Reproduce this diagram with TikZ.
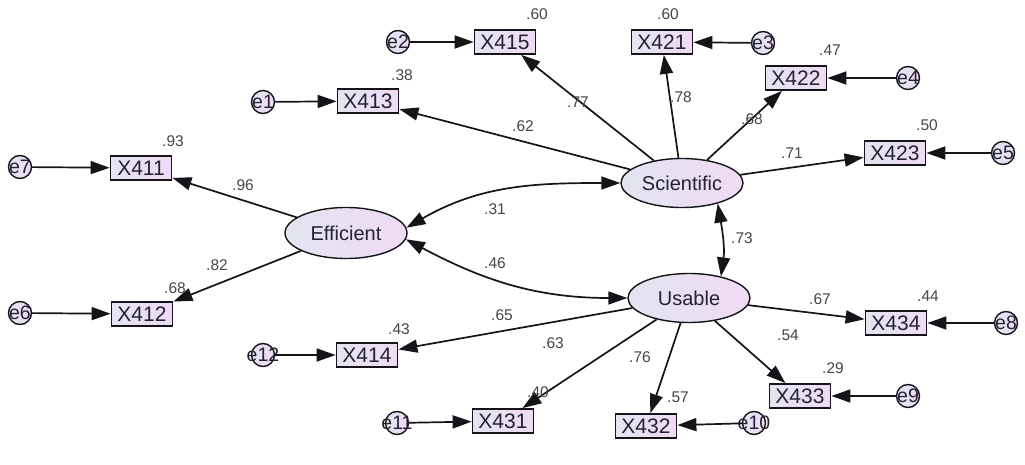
\documentclass[tikz,border=0pt]{standalone}
\usepackage{fontspec}
\setmainfont{Liberation Sans}
\usetikzlibrary{shapes.geometric,arrows.meta}
\definecolor{lineC}{RGB}{20,20,25}
\definecolor{txtC}{RGB}{35,35,50}
\definecolor{lblC}{RGB}{70,70,75}
\definecolor{shL}{RGB}{226,229,240}
\definecolor{shR}{RGB}{240,218,244}
\tikzset{
  x=1pt,y=1pt,
  obs/.style={draw=lineC,line width=1.8pt,left color=shL,right color=shR,minimum width=61pt,minimum height=24pt,inner sep=0pt,text=txtC,font=\fontsize{21}{21}\selectfont},
  lat/.style={ellipse,draw=lineC,line width=1.4pt,left color=shL,right color=shR,minimum width=122pt,minimum height=49pt,inner sep=0pt,text=txtC,font=\fontsize{20}{20}\selectfont},
  err/.style={circle,draw=lineC,line width=1.4pt,left color=shL,right color=shR,minimum size=23pt,inner sep=0pt,
    label={[text=txtC,inner sep=0pt,font=\fontsize{19.5}{19.5}\selectfont]center:#1}},
  val/.style={text=lblC,inner sep=0pt,font=\fontsize{15.5}{15.5}\selectfont},
  arr/.style={draw=lineC,line width=1.7pt,-{Triangle[length=19pt,width=13pt]}},
  cov/.style={draw=lineC,line width=1.7pt,{Triangle[length=19pt,width=13pt]}-{Triangle[length=19pt,width=13pt]}}
}
\begin{document}
\begin{tikzpicture}
\useasboundingbox[fill=white] (0,0) rectangle (1025,-465);
% latent
\node[lat] (Sci) at (682,-183) {Scientific};
\node[lat,minimum height=51pt] (Eff) at (346,-233) {Efficient};
\node[lat] (Use) at (689,-298) {Usable};
% observed
\node[obs] (X415) at (505,-42) {X415};
\node[obs] (X421) at (662,-42) {X421};
\node[obs] (X413) at (368,-101) {X413};
\node[obs] (X422) at (796,-78) {X422};
\node[obs] (X411) at (141,-168) {X411};
\node[obs] (X423) at (895,-153) {X423};
\node[obs] (X412) at (142,-314) {X412};
\node[obs] (X414) at (367,-355) {X414};
\node[obs] (X434) at (896,-323) {X434};
\node[obs] (X433) at (800,-396) {X433};
\node[obs] (X431) at (503,-421) {X431};
\node[obs] (X432) at (646,-426) {X432};
% errors
\node[err=e2] (e2) at (398,-42) {};
\node[err=e3] (e3) at (763,-43) {};
\node[err=e1] (e1) at (263,-102) {};
\node[err=e4] (e4) at (908,-78) {};
\node[err=e7] (e7) at (20,-167) {};
\node[err=e5] (e5) at (1003,-153) {};
\node[err=e6] (e6) at (20,-313) {};
\node[err=e12] (e12) at (263,-355) {};
\node[err=e8] (e8) at (1006,-323) {};
\node[err=e9] (e9) at (908,-396) {};
\node[err=e11] (e11) at (397,-423) {};
\node[err=e10] (e10) at (754,-423) {};
% error arrows
\draw[arr] (e2) -- (X415);
\draw[arr] (e3) -- (X421);
\draw[arr] (e1) -- (X413);
\draw[arr] (e4) -- (X422);
\draw[arr] (e7) -- (X411);
\draw[arr] (e5) -- (X423);
\draw[arr] (e6) -- (X412);
\draw[arr] (e12) -- (X414);
\draw[arr] (e8) -- (X434);
\draw[arr] (e9) -- (X433);
\draw[arr] (e11) -- (X431);
\draw[arr] (e10) -- (X432);
% loadings
\draw[arr] (Sci) -- (X413);
\draw[arr] (Sci) -- (X415);
\draw[arr] (Sci) -- (X421);
\draw[arr] (Sci) -- (X422);
\draw[arr] (Sci) -- (X423);
\draw[arr] (Eff) -- (X411);
\draw[arr] (Eff) -- (X412);
\draw[arr] (Use) -- (X414);
\draw[arr] (Use) -- (X431);
\draw[arr] (Use) -- (X432);
\draw[arr] (Use) -- (X433);
\draw[arr] (Use) -- (X434);
% covariances
\draw[cov] (Eff.5) to[out=30,in=180] (Sci.180);
\draw[cov] (Eff.-6) to[out=-28,in=180] (Use.180);
\draw[cov] (Sci.-30) to[out=-80,in=82] (Use.34);
% values
\node[val] (v1) at (537,-14) {.60};
\node[val] (v2) at (668,-14) {.60};
\node[val] (v3) at (402,-75) {.38};
\node[val] (v4) at (830,-50) {.47};
\node[val] (v5) at (578,-102) {.77};
\node[val] (v6) at (523,-126) {.62};
\node[val] (v7) at (681,-97) {.78};
\node[val] (v8) at (752,-119) {.68};
\node[val] (v9) at (792,-153) {.71};
\node[val] (v10) at (927,-125) {.50};
\node[val] (v11) at (173,-141) {.93};
\node[val] (v12) at (243,-185) {.96};
\node[val] (v13) at (495,-209) {.31};
\node[val] (v14) at (742,-238) {.73};
\node[val] (v15) at (495,-263) {.46};
\node[val] (v16) at (217,-265) {.82};
\node[val] (v17) at (175,-288) {.68};
\node[val] (v18) at (820,-299) {.67};
\node[val] (v19) at (928,-296) {.44};
\node[val] (v20) at (502,-315) {.65};
\node[val] (v21) at (399,-329) {.43};
\node[val] (v22) at (788,-335) {.54};
\node[val] (v23) at (553,-343) {.63};
\node[val] (v24) at (640,-357) {.76};
\node[val] (v25) at (833,-368) {.29};
\node[val] (v26) at (538,-392) {.40};
\node[val] (v27) at (678,-397) {.57};
\end{tikzpicture}
\end{document}
